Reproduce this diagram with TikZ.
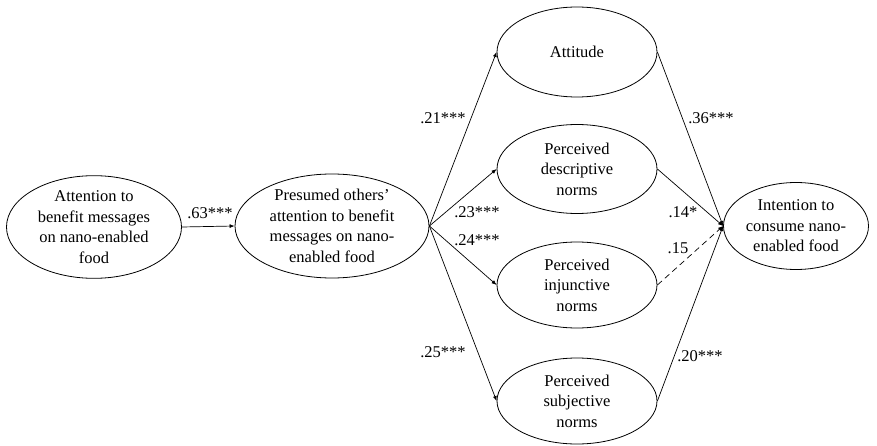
\documentclass[tikz,border=0pt]{standalone}
\usepackage{fontspec}
\setmainfont{Liberation Serif}
\usetikzlibrary{shapes.geometric,arrows.meta}
\begin{document}
\begin{tikzpicture}[x=1pt,y=1pt,
    var/.style={draw, ellipse, inner sep=0pt, align=center, line width=0.8pt,
        font=\fontsize{16.5}{20.5}\selectfont},
    path/.style={line width=0.7pt, -{Latex[length=5pt,width=4pt]}},
    coef/.style={font=\fontsize{16.5}{18}\selectfont}]
    \useasboundingbox (0,0) rectangle (877,445);
    % variables
    \node[var, minimum width=175, minimum height=91] (att) at (94,218)
        {Attention to\\benefit messages\\on nano-enabled\\food};
    \node[var, minimum width=194, minimum height=104] (pre) at (332,219)
        {Presumed others'\\attention to benefit\\messages on nano-\\enabled food};
    \node[var, minimum width=160, minimum height=90] (atd) at (577,393) {Attitude};
    \node[var, minimum width=160, minimum height=89] (des) at (577,276)
        {Perceived\\descriptive\\norms};
    \node[var, minimum width=160, minimum height=86] (inj) at (577,160)
        {Perceived\\injunctive\\norms};
    \node[var, minimum width=160, minimum height=86] (sub) at (577,44)
        {Perceived\\subjective\\norms};
    \node[var, minimum width=145, minimum height=87] (int) at (796,219)
        {Intention to\\consume nano-\\enabled food};
    % paths
    \draw[path] (att.east) -- (pre.west);
    \draw[path] (pre.east) -- (atd.west);
    \draw[path] (pre.east) -- (des.west);
    \draw[path] (pre.east) -- (inj.west);
    \draw[path] (pre.east) -- (sub.west);
    \draw[path] (atd.east) -- (int.west);
    \draw[path] (des.east) -- (int.west);
    \draw[path, dash pattern=on 6pt off 4pt] (inj.east) -- (int.west);
    \draw[path] (sub.east) -- (int.west);
    % coefficients
    \node[coef] (c1) at (210,232) {.63***};
    \node[coef] (c2) at (443,327) {.21***};
    \node[coef] (c3) at (477,233) {.23***};
    \node[coef] (c4) at (477,205) {.24***};
    \node[coef] (c5) at (443,93) {.25***};
    \node[coef] (c6) at (711,327) {.36***};
    \node[coef] (c7) at (683,233) {.14*};
    \node[coef] (c8) at (678,197) {.15};
    \node[coef] (c9) at (700,89) {.20***};
\end{tikzpicture}
\end{document}
